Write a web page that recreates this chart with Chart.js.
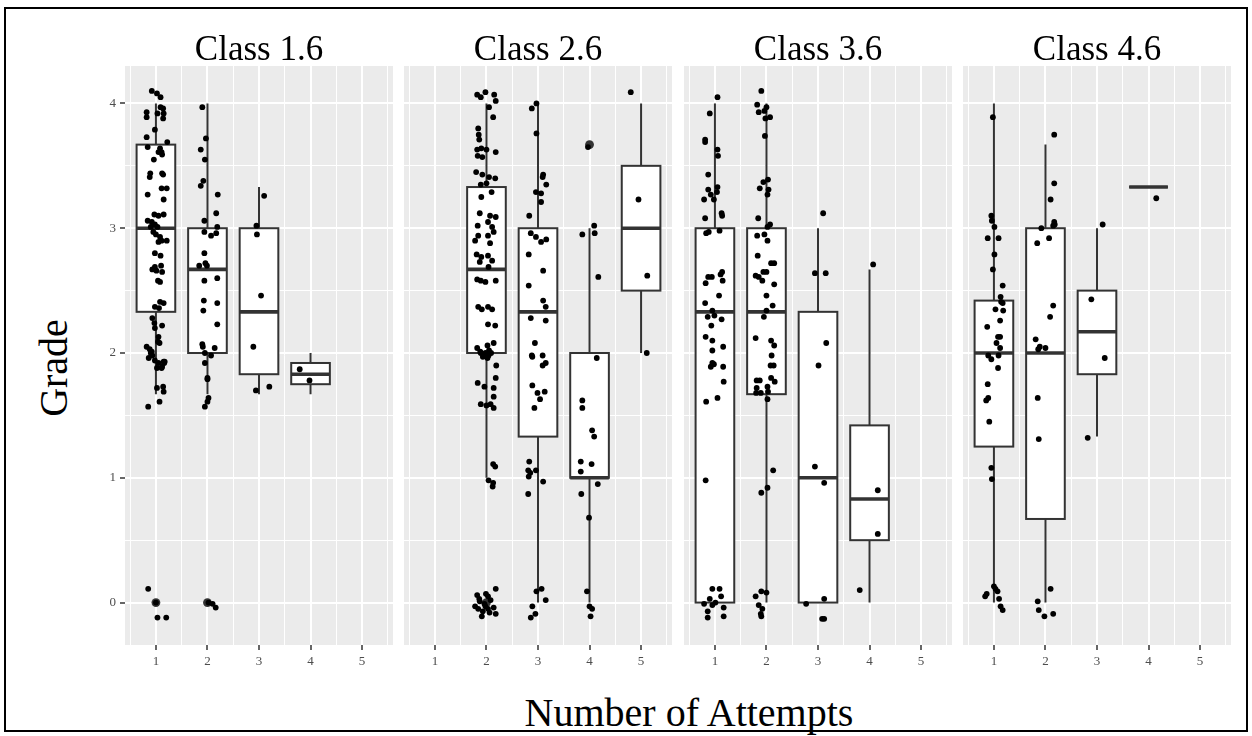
<!DOCTYPE html>
<html><head><meta charset="utf-8">
<script src="https://cdn.jsdelivr.net/npm/chart.js@4/dist/chart.umd.min.js"></script>
<style>
html,body{margin:0;padding:0;background:#fff;}
#wrap{position:relative;width:1252px;height:736px;overflow:hidden;background:#fff;}
#frame{position:absolute;left:4px;top:7px;width:1244px;height:725px;border:2px solid #000;box-sizing:border-box;}
canvas{position:absolute;top:0;}
.lab{position:absolute;font-family:'Liberation Serif','Times New Roman',serif;color:#000;white-space:nowrap;text-align:center;}
</style></head><body>
<div id="wrap">
<div id="frame"></div>
<div class="lab" id="ylab" style="left:-46.5px;top:347.5px;width:200px;height:40px;line-height:40px;font-size:40px;transform:rotate(-90deg);">Grade</div>
<div class="lab" id="xlab" style="left:389px;top:693px;width:600px;height:40px;line-height:40px;font-size:40px;">Number of Attempts</div>
</div>
<script>
// ---- data ----
const classes = ['Class 1.6', 'Class 2.6', 'Class 3.6', 'Class 4.6'];
const attemptLabels = ['1', '2', '3', '4', '5'];
const yTickLabels = ['0', '1', '2', '3', '4'];

// box stats: [attempt, lowerWhisker, q1, median, q3, upperWhisker]
const class1Box = [[1,1.67,2.33,3.0,3.67,4.0],[2,1.67,2.0,2.67,3.0,4.0],[3,1.67,1.83,2.33,3.0,3.33],[4,1.67,1.75,1.83,1.92,2.0]];
const class2Box = [[2,1.0,2.0,2.67,3.33,4.0],[3,0,1.33,2.33,3.0,4.0],[4,0,1.0,1.0,2.0,3.0],[5,2.0,2.5,3.0,3.5,4.0]];
const class3Box = [[1,0,0,2.33,3.0,4.0],[2,0,1.67,2.33,3.0,4.0],[3,0,0,1.0,2.33,3.0],[4,0,0.5,0.83,1.42,2.67]];
const class4Box = [[1,0,1.25,2.0,2.42,4.0],[2,0,0.67,2.0,3.0,3.67],[3,1.33,1.83,2.17,2.5,3.0],[4,3.33,3.33,3.33,3.33,3.33]];

// outliers: [attempt, grade]
const class1Outliers = [[1,0],[2,0]];
const class2Outliers = [[2,0],[4,3.67]];
const class3Outliers = [];
const class4Outliers = [];

// jittered observations: [attempt (jittered), grade (jittered)]
const class1Points = [
[0.92,4.10],[1.02,4.08],[1.09,4.05],[0.82,3.93],[0.82,3.89],[1.09,3.97],[1.14,3.96],[1.15,3.92],[1.14,3.88],[1.03,3.92],
[0.98,3.79],[0.82,3.73],[1.22,3.69],[0.84,3.65],[1.08,3.64],[1.11,3.61],[1.05,3.61],[1.12,3.59],[0.96,3.55],[0.89,3.44],
[0.88,3.41],[1.12,3.44],[1.14,3.43],[1.21,3.32],[1.11,3.32],[0.84,3.27],[1.15,3.23],[0.97,3.11],[1.05,3.10],[1.15,3.11],
[0.84,3.06],[0.92,3.05],[0.98,3.03],[1.03,3.01],[0.90,3.01],[0.95,2.97],[1.00,2.95],[1.08,2.93],[1.21,2.90],[1.11,2.90],
[1.05,2.89],[0.98,2.80],[1.09,2.78],[0.98,2.69],[1.10,2.70],[0.93,2.67],[1.01,2.66],[1.12,2.65],[1.04,2.58],[1.08,2.57],
[1.08,2.41],[1.15,2.40],[0.98,2.37],[1.06,2.36],[0.93,2.28],[0.97,2.24],[1.12,2.22],[0.98,2.20],[1.05,2.13],[1.04,2.09],
[0.82,2.05],[0.88,2.03],[0.90,2.00],[0.86,1.96],[0.98,1.94],[1.05,1.92],[1.15,1.93],[1.12,1.89],[1.02,1.88],[0.92,2.01],
[0.93,1.98],[1.16,1.92],[1.17,1.93],[1.11,1.88],[1.02,1.72],[1.14,1.73],[1.15,1.69],[1.07,1.61],[0.85,1.57],[1.07,2.08],
[0.85,0.11],[1.03,-0.12],[1.20,-0.12],[1.00,0.00],
[1.90,3.97],[1.97,3.72],[1.87,3.63],[1.95,3.55],[1.92,3.38],[1.87,3.34],[2.20,3.27],[2.17,3.12],[1.94,3.06],[2.19,3.01],
[1.94,2.97],[2.17,2.96],[2.07,2.94],[1.94,2.80],[1.84,2.70],[1.96,2.72],[1.99,2.70],[1.94,2.58],[2.19,2.60],[1.93,2.42],
[2.19,2.40],[1.92,2.34],[2.19,2.23],[1.90,2.07],[1.91,2.05],[2.14,2.04],[1.95,2.00],[2.07,1.98],[1.95,1.92],[2.00,1.80],
[2.00,1.79],[2.02,1.64],[2.00,1.61],[1.95,1.57],[2.10,-0.01],[2.16,-0.04],[2.02,0.00],
[3.10,3.26],[2.95,3.02],[2.96,2.95],[3.04,2.46],[2.89,2.05],[2.94,1.70],[3.20,1.73],
[3.79,1.87],[3.98,1.78]
];
const class2Points = [
[1.82,4.07],[1.89,4.05],[1.98,4.09],[2.15,4.07],[2.18,4.02],[2.05,3.97],[2.13,3.89],[1.84,3.80],[1.85,3.75],[1.86,3.71],
[1.82,3.63],[1.90,3.64],[2.00,3.63],[2.18,3.61],[1.83,3.58],[1.92,3.57],[1.80,3.45],[1.92,3.43],[2.05,3.41],[2.17,3.40],
[2.00,3.36],[1.89,3.35],[2.10,3.29],[1.90,3.25],[1.87,3.12],[2.07,3.10],[2.18,3.09],[2.03,3.05],[2.11,3.01],[1.83,3.02],
[2.14,2.97],[1.84,2.94],[2.03,2.94],[1.78,2.90],[2.07,2.88],[1.81,2.79],[1.90,2.77],[2.03,2.78],[2.11,2.74],[1.87,2.73],
[2.04,2.69],[1.82,2.59],[1.89,2.58],[1.98,2.57],[2.18,2.58],[1.84,2.37],[1.91,2.35],[2.03,2.37],[2.11,2.35],[2.03,2.23],
[2.17,2.22],[2.02,2.06],[2.14,2.08],[1.82,2.04],[1.89,2.00],[1.98,2.00],[2.09,2.00],[2.02,1.96],[2.19,1.90],[2.18,1.80],
[1.83,1.76],[1.96,1.73],[2.14,1.72],[2.14,1.65],[1.89,1.59],[2.00,1.58],[2.08,1.59],[2.14,1.56],[2.13,1.11],[2.17,1.09],
[2.04,0.98],[2.13,0.96],[2.12,0.93],[2.18,0.11],[1.82,0.06],[2.03,0.05],[1.87,0.01],[1.96,-0.01],[2.14,-0.04],[1.84,-0.05],
[2.03,-0.05],[2.18,-0.09],[1.91,-0.11],[1.78,-0.03],[1.98,-0.03],[1.88,2.01],[1.95,1.99],[2.05,2.02],[1.93,1.97],[2.04,1.98],
[1.86,0.03],[2.08,0.02],[1.93,-0.07],[2.06,-0.08],[1.99,0.07],
[2.97,4.00],[2.88,3.96],[2.97,3.76],[3.10,3.43],[3.16,3.35],[3.09,3.41],[2.96,3.29],[3.06,3.28],[3.06,3.21],[2.83,3.10],
[2.86,2.96],[2.96,2.93],[3.06,2.89],[3.16,2.91],[2.82,2.79],[3.10,2.66],[2.82,2.54],[3.10,2.42],[3.15,2.37],[3.15,2.26],
[2.86,2.28],[2.94,2.08],[2.88,1.98],[3.09,1.98],[2.89,1.97],[3.15,1.92],[3.09,1.90],[2.89,1.74],[2.99,1.68],[3.13,1.69],
[3.04,1.63],[2.93,1.56],[2.83,1.13],[2.81,1.06],[2.85,1.04],[2.96,1.06],[2.82,1.01],[3.10,0.97],[2.81,0.87],[2.97,0.09],
[3.07,0.11],[3.15,0.02],[2.89,-0.03],[2.95,-0.09],[2.86,-0.12],
[3.97,3.65],[4.09,3.02],[4.10,2.96],[3.86,2.95],[4.17,2.61],[4.14,1.96],[3.86,1.62],[3.86,1.56],[4.05,1.38],[4.09,1.33],
[3.83,1.13],[4.04,1.11],[3.83,1.05],[4.16,0.95],[3.84,0.87],[3.99,0.68],[3.95,0.09],[4.00,-0.03],[4.05,-0.05],[4.02,-0.11],
[4.80,4.09],[4.95,3.23],[5.12,2.62],[5.11,2.00]
];
const class3Points = [
[1.05,4.05],[0.90,3.92],[0.81,3.71],[0.81,3.69],[1.05,3.63],[1.06,3.58],[0.87,3.43],[0.87,3.31],[0.92,3.27],[1.05,3.33],
[1.04,3.29],[0.79,3.23],[0.98,3.23],[0.81,3.08],[1.13,3.12],[1.14,3.10],[0.83,2.96],[0.88,2.97],[1.09,2.98],[1.14,2.65],
[1.11,2.63],[0.94,2.61],[0.87,2.61],[0.82,2.56],[1.15,2.58],[1.08,2.46],[0.81,2.40],[0.95,2.34],[0.86,2.29],[0.99,2.30],
[1.13,2.27],[0.93,2.22],[0.82,2.13],[0.95,2.10],[1.16,2.05],[0.95,2.02],[0.95,1.92],[0.98,1.91],[0.92,1.89],[1.16,1.89],
[1.17,1.77],[0.83,1.61],[1.05,1.64],[0.82,0.98],[0.95,0.11],[1.09,0.11],[1.12,0.05],[0.79,-0.01],[0.95,-0.02],[0.86,-0.07],
[1.17,-0.04],[0.86,-0.12],[1.17,-0.11],[1.01,0.00],[0.90,0.03],
[1.90,4.10],[1.82,3.99],[1.85,3.93],[1.96,3.94],[2.00,3.97],[1.98,3.88],[2.07,3.89],[1.97,3.74],[1.94,3.37],[2.03,3.39],
[1.87,3.32],[2.04,3.31],[2.02,3.27],[1.84,3.08],[2.07,3.03],[2.02,3.01],[1.96,2.95],[1.82,2.94],[2.02,2.90],[1.83,2.78],
[2.09,2.72],[2.15,2.72],[1.79,2.62],[1.85,2.61],[1.94,2.65],[2.00,2.65],[1.92,2.58],[2.15,2.55],[2.00,2.46],[2.12,2.38],
[2.00,2.34],[1.95,2.29],[1.79,2.12],[2.09,2.10],[2.15,2.06],[2.10,1.98],[2.08,1.90],[2.14,1.90],[2.09,1.80],[2.16,1.77],
[1.81,1.78],[1.87,1.78],[1.81,1.72],[2.02,1.73],[1.80,1.68],[1.89,1.68],[2.03,1.69],[2.02,1.63],[2.13,1.06],[2.02,0.92],
[1.90,0.88],[1.90,0.09],[2.00,0.08],[1.79,0.05],[1.85,-0.02],[1.92,-0.05],[1.89,-0.09],[1.90,-0.11],
[3.10,3.12],[2.94,2.64],[3.15,2.64],[3.16,2.08],[3.01,1.90],[2.94,1.09],[3.12,0.96],[2.77,-0.01],[3.12,0.03],[3.08,-0.13],
[3.12,-0.13],
[4.07,2.71],[4.16,0.90],[4.16,0.55],[3.81,0.10]
];
const class4Points = [
[0.98,3.89],[0.95,3.10],[0.96,3.06],[1.01,3.01],[0.88,2.92],[1.09,2.92],[1.01,2.79],[0.98,2.67],[1.17,2.54],[1.13,2.45],
[1.14,2.41],[1.17,2.40],[1.03,2.35],[1.18,2.34],[1.12,2.26],[0.87,2.21],[1.08,2.13],[1.12,2.13],[1.05,2.08],[1.12,2.04],
[0.89,1.98],[1.09,1.98],[0.95,1.95],[1.08,1.88],[0.88,1.75],[0.85,1.62],[0.89,1.64],[0.91,1.45],[0.95,1.08],[0.96,0.99],
[1.00,0.13],[1.03,0.11],[1.07,0.09],[0.86,0.07],[0.83,0.05],[1.10,0.03],[1.13,-0.03],[1.17,-0.06],
[2.17,3.75],[2.17,3.36],[2.10,3.23],[1.92,3.00],[2.17,3.05],[2.18,3.03],[2.15,3.02],[2.07,2.92],[1.84,2.88],[2.15,2.38],
[2.09,2.29],[1.81,2.11],[1.89,2.05],[1.86,2.03],[2.00,2.04],[1.85,1.64],[1.87,1.31],[2.10,0.11],[1.85,0.01],[1.87,-0.06],
[1.98,-0.11],[2.15,-0.09],
[3.11,3.03],[2.89,2.43],[3.15,1.96],[2.82,1.32],
[4.15,3.24]
];

const panelBoxes = [class1Box, class2Box, class3Box, class4Box];
const panelOutliers = [class1Outliers, class2Outliers, class3Outliers, class4Outliers];
const panelPoints = [class1Points, class2Points, class3Points, class4Points];

// ---- layout / style ----
const PANEL_LEFTS = [125, 404, 684, 963];
const LEFT_ROOM = 125, PANEL_W = 268, RIGHT_ROOM = 6, H = 736;
const SERIF = "'Liberation Serif','Times New Roman',serif";
Chart.defaults.font.family = SERIF;

const isInt = v => Math.abs(v - Math.round(v)) < 1e-6;

const panelBg = {
  id: 'panelBg',
  beforeDraw(chart) {
    const {ctx, chartArea: a} = chart;
    ctx.save();
    ctx.fillStyle = '#EBEBEB';
    ctx.fillRect(a.left, a.top, a.right - a.left, a.bottom - a.top);
    ctx.restore();
  }
};

function makeBoxPlugin(boxes) {
  return {
    id: 'boxPlot',
    beforeDatasetsDraw(chart) {
      const xs = chart.scales.x, ys = chart.scales.y, ctx = chart.ctx;
      ctx.save();
      ctx.strokeStyle = '#333333';
      ctx.lineCap = 'butt';
      for (const [att, lo, q1, med, q3, hi] of boxes) {
        const cx = xs.getPixelForValue(att);
        const hw = xs.getPixelForValue(att + 0.375) - cx;
        const yLo = ys.getPixelForValue(lo), yQ1 = ys.getPixelForValue(q1);
        const yMed = ys.getPixelForValue(med), yQ3 = ys.getPixelForValue(q3), yHi = ys.getPixelForValue(hi);
        ctx.lineWidth = 2;
        ctx.beginPath();
        ctx.moveTo(cx, yHi); ctx.lineTo(cx, yQ3);
        ctx.moveTo(cx, yQ1); ctx.lineTo(cx, yLo);
        ctx.stroke();
        ctx.fillStyle = '#FFFFFF';
        ctx.fillRect(cx - hw, yQ3, 2 * hw, yQ1 - yQ3);
        ctx.strokeRect(cx - hw, yQ3, 2 * hw, yQ1 - yQ3);
        ctx.lineWidth = 3.6;
        ctx.beginPath();
        ctx.moveTo(cx - hw, yMed); ctx.lineTo(cx + hw, yMed);
        ctx.stroke();
      }
      ctx.restore();
    }
  };
}

const wrap = document.getElementById('wrap');

classes.forEach((name, i) => {
  const cv = document.createElement('canvas');
  const W = LEFT_ROOM + PANEL_W + RIGHT_ROOM;
  cv.width = W; cv.height = H;
  cv.style.width = W + 'px'; cv.style.height = H + 'px';
  cv.style.left = (PANEL_LEFTS[i] - LEFT_ROOM) + 'px';
  wrap.appendChild(cv);
  const first = i === 0;

  new Chart(cv, {
    type: 'scatter',
    data: {
      datasets: [
        {
          label: name + ' grades',
          data: panelPoints[i].map(([x, y]) => ({x, y})),
          pointRadius: 2.9, pointHoverRadius: 2.9,
          pointBackgroundColor: '#000000', pointBorderWidth: 0, borderColor: '#000000'
        },
        {
          label: name + ' outliers',
          data: panelOutliers[i].map(([x, y]) => ({x, y})),
          pointRadius: 4.4, pointHoverRadius: 4.4,
          pointBackgroundColor: '#333333', pointBorderWidth: 0, borderColor: '#333333'
        }
      ]
    },
    options: {
      responsive: false,
      animation: false,
      devicePixelRatio: 1,
      events: [],
      layout: {padding: {left: first ? 0 : LEFT_ROOM, right: RIGHT_ROOM, top: 0, bottom: 0}},
      plugins: {
        legend: {display: false},
        tooltip: {enabled: false},
        title: {
          display: true, text: name, fullSize: false, color: '#000000',
          font: {family: SERIF, size: 35, weight: 'normal', lineHeight: 0.9},
          padding: {top: 35, bottom: -0.5}
        }
      },
      scales: {
        x: {
          type: 'linear', min: 0.4, max: 5.6,
          afterFit: s => { s.height = 91; },
          border: {display: false},
          grid: {
            color: '#FFFFFF',
            lineWidth: c => isInt(c.tick.value) ? 2 : 1,
            drawTicks: true, tickLength: 5,
            tickColor: c => isInt(c.tick.value) ? '#333333' : 'rgba(0,0,0,0)',
            tickWidth: 1.5
          },
          ticks: {
            stepSize: 0.5, includeBounds: false, autoSkip: false, maxRotation: 0, padding: 4,
            color: '#4D4D4D', font: {family: SERIF, size: 13},
            callback: v => isInt(v) ? attemptLabels[Math.round(v) - 1] : ''
          }
        },
        y: {
          type: 'linear', min: -0.34, max: 4.3,
          afterFit: s => { s.width = first ? LEFT_ROOM : 0; },
          border: {display: false},
          grid: {
            color: '#FFFFFF',
            lineWidth: c => isInt(c.tick.value) ? 2 : 1,
            drawTicks: first, tickLength: 5,
            tickColor: c => isInt(c.tick.value) ? '#333333' : 'rgba(0,0,0,0)',
            tickWidth: 1.5
          },
          ticks: {
            display: first,
            stepSize: 0.5, includeBounds: false, autoSkip: false, padding: 4,
            color: '#4D4D4D', font: {family: SERIF, size: 13},
            callback: v => isInt(v) ? yTickLabels[Math.round(v)] : ''
          }
        }
      }
    },
    plugins: [panelBg, makeBoxPlugin(panelBoxes[i])]
  });
});
</script>
</body></html>
